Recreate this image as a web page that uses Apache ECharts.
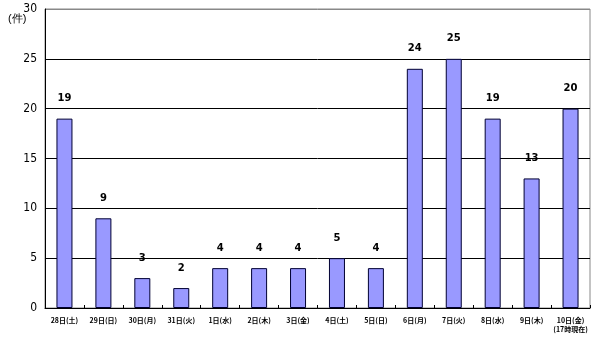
<!DOCTYPE html>
<html><head><meta charset="utf-8">
<script src="https://cdn.jsdelivr.net/npm/echarts@6/dist/echarts.min.js"></script>
<style>html,body{margin:0;padding:0;background:#fff}#c{width:599px;height:350px}</style>
</head><body><div id="c"></div>
<script>
const categories = ['28日(土)','29日(日)','30日(月)','31日(火)','1日(水)','2日(木)','3日(金)','4日(土)','5日(日)','6日(月)','7日(火)','8日(水)','9日(木)','10日(金)\n(17時現在)'];
const counts = [19, 9, 3, 2, 4, 4, 4, 5, 4, 24, 25, 19, 13, 20];
const yMin = 0, yMax = 30, yStep = 5;
const unitLabel = '(件)';

const chart = echarts.init(document.getElementById('c'), null, {renderer:'canvas'});
chart.setOption({
  animation: false,
  backgroundColor: '#fff',
  textStyle: {fontFamily: '"Noto Sans CJK JP", sans-serif'},
  grid: {left: 45, right: 9, top: 9, bottom: 42, show: true, borderColor: '#888', borderWidth: 1},
  xAxis: {
    type: 'category', data: categories,
    axisLine: {lineStyle: {color: '#000', width: 1}},
    axisTick: {show: true, inside: true, length: 3, lineStyle: {color: '#000'}},
    axisLabel: {fontSize: 7, color: '#000', margin: 8, lineHeight: 9, interval: 0, fontWeight: 'bold'}
  },
  yAxis: {
    type: 'value', min: yMin, max: yMax, interval: yStep,
    axisLine: {show: true, lineStyle: {color: '#000'}},
    axisTick: {show: false},
    axisLabel: {fontSize: 12, color: '#000', margin: 8, fontFamily: '"Liberation Sans Narrow", "DejaVu Sans Condensed", sans-serif'},
    splitLine: {lineStyle: {color: ['#000','#000','#000','#000','#000','#000','#888'], width: 1}}
  },
  graphic: [{type: 'text', left: 8, top: 13, style: {text: unitLabel, fontSize: 11, fill: '#000', font: '11px "Noto Sans CJK JP"'}}],
  series: [{
    type: 'bar', data: counts, barWidth: 16,
    itemStyle: {color: '#9999ff', borderColor: '#000033', borderWidth: 1},
    label: {show: true, position: 'top', distance: 15, fontSize: 10, fontWeight: 'bold', color: '#000', fontFamily: '"DejaVu Sans", sans-serif'}
  }]
});
</script></body></html>
